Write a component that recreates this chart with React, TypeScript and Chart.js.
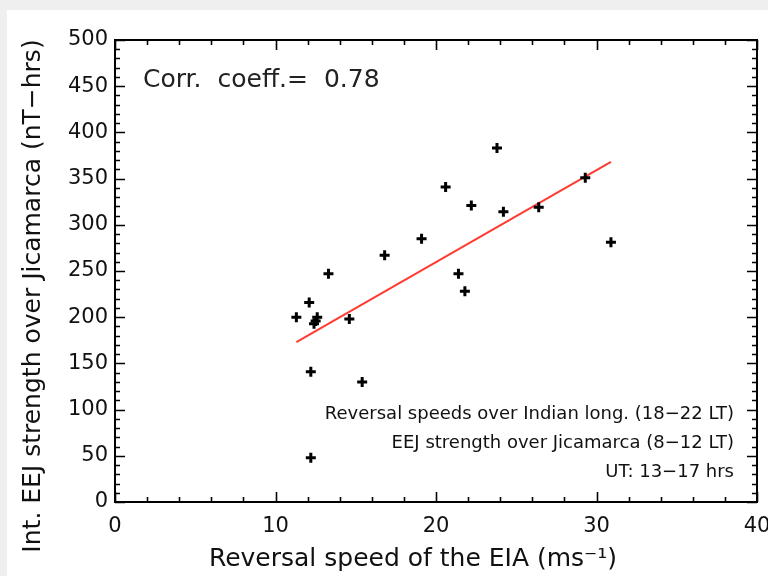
import React, { useEffect, useRef } from "react";
import { Chart, registerables } from "chart.js";

Chart.register(...registerables);

// ---- data ----
const speedX = [11.3, 12.1, 12.6, 12.5, 12.4, 14.6, 12.2, 15.4, 12.2, 21.8, 13.3, 16.8, 19.1, 20.6, 22.2, 21.4, 23.8, 24.2, 26.4, 29.3, 30.9];
const eejY = [200, 216, 200, 196, 193, 198, 141, 130, 48, 228, 247, 267, 285, 341, 321, 247, 383, 314, 319, 351, 281];
const fitX = [11.3, 30.9];
const fitY = [173, 368];

const xRange = [0, 40];
const xMajorStep = 10;
const xMinorStep = 2;
const yRange = [0, 500];
const yMajorStep = 50;
const yMinorStep = 10;

const corrLabel = "Corr. coeff.= 0.78";
const noteLines = [
  "Reversal speeds over Indian long. (18\u221222 LT)",
  "EEJ strength over Jicamarca (8\u221212 LT)",
  "UT: 13\u221217 hrs",
];
const xTitle = "Reversal speed of the EIA (ms\u207B\u00B9)";
const yTitle = "Int. EEJ strength over Jicamarca (nT\u2212hrs)";

const FONT = "'DejaVu Sans', sans-serif";

const framePlugin = {
  id: "idlFrame",
  beforeDraw(chart: any) {
    const { ctx, width, height } = chart;
    ctx.save();
    ctx.fillStyle = "#efefef";
    ctx.fillRect(0, 0, width, height);
    ctx.fillStyle = "#ffffff";
    ctx.fillRect(7, 10, width - 7, height - 10);
    ctx.restore();
  },
  afterDraw(chart: any) {
    const { ctx, chartArea } = chart;
    const { left, right, top, bottom } = chartArea;
    const xs = chart.scales.x;
    const ys = chart.scales.y;
    ctx.save();
    ctx.strokeStyle = "#000";
    ctx.lineWidth = 2;
    ctx.strokeRect(left, top, right - left, bottom - top);
    ctx.lineWidth = 1.6;
    ctx.beginPath();
    for (let v = xRange[0]; v <= xRange[1] + 1e-9; v += xMinorStep) {
      const px = Math.round(xs.getPixelForValue(v)) + 0.5;
      const major = Math.abs(v / xMajorStep - Math.round(v / xMajorStep)) < 1e-6;
      const len = major ? 10 : 5;
      ctx.moveTo(px, bottom);
      ctx.lineTo(px, bottom - len);
      ctx.moveTo(px, top);
      ctx.lineTo(px, top + len);
    }
    for (let v = yRange[0]; v <= yRange[1] + 1e-9; v += yMinorStep) {
      const py = Math.round(ys.getPixelForValue(v)) + 0.5;
      const major = Math.abs(v / yMajorStep - Math.round(v / yMajorStep)) < 1e-6;
      const len = major ? 10 : 5;
      ctx.moveTo(left, py);
      ctx.lineTo(left + len, py);
      ctx.moveTo(right, py);
      ctx.lineTo(right - len, py);
    }
    ctx.stroke();

    // annotations
    ctx.fillStyle = "#222";
    ctx.font = `25px ${FONT}`;
    ctx.textAlign = "left";
    ctx.textBaseline = "middle";
    try { (ctx as any).wordSpacing = "8px"; } catch (e) {}
    ctx.fillText(corrLabel, left + 28, top + 40);
    try { (ctx as any).wordSpacing = "0px"; } catch (e) {}

    ctx.fillStyle = "#111";
    ctx.font = `18px ${FONT}`;
    ctx.textAlign = "right";
    noteLines.forEach((t, i) => {
      ctx.fillText(t, right - 23, bottom - 88 + i * 29);
    });

    // axis titles
    ctx.font = `25px ${FONT}`;
    ctx.textAlign = "center";
    ctx.fillText(xTitle, 413, 559);
    ctx.save();
    ctx.translate(33, 296);
    ctx.rotate(-Math.PI / 2);
    ctx.fillText(yTitle, 0, 0);
    ctx.restore();
    ctx.restore();
  },
};

export default function App() {
  const ref = useRef<HTMLCanvasElement | null>(null);
  useEffect(() => {
    if (!ref.current) return;
    const chart = new Chart(ref.current, {
      type: "scatter",
      data: {
        datasets: [
          {
            label: "EEJ vs speed",
            data: speedX.map((x, i) => ({ x, y: eejY[i] })),
            pointStyle: "cross",
            pointRadius: 5,
            pointHoverRadius: 5,
            borderColor: "#000",
            backgroundColor: "#000",
            borderWidth: 3,
            showLine: false,
          },
          {
            label: "fit",
            type: "line",
            data: fitX.map((x, i) => ({ x, y: fitY[i] })),
            borderColor: "#ff3b30",
            borderWidth: 2,
            pointRadius: 0,
            showLine: true,
            fill: false,
          },
        ],
      } as any,
      options: {
        responsive: false,
        animation: false,
        layout: { padding: { left: 0, top: 40, right: 11, bottom: 0 } },
        plugins: { legend: { display: false }, tooltip: { enabled: false } },
        scales: {
          x: {
            type: "linear",
            min: xRange[0],
            max: xRange[1],
            grid: { display: false, drawTicks: false },
            border: { display: false },
            ticks: { stepSize: xMajorStep, color: "#111", font: { family: FONT, size: 21 }, padding: 12 },
            afterFit: (s: any) => { s.height = 74; s.paddingLeft = 0; s.paddingRight = 0; },
          },
          y: {
            type: "linear",
            min: yRange[0],
            max: yRange[1],
            grid: { display: false, drawTicks: false },
            border: { display: false },
            ticks: { stepSize: yMajorStep, color: "#111", font: { family: FONT, size: 21 }, padding: 7 },
            afterFit: (s: any) => { s.width = 115; s.paddingTop = 0; s.paddingBottom = 0; },
          },
        },
      },
      plugins: [framePlugin],
    });
    return () => chart.destroy();
  }, []);
  return (
    <div style={{ position: "absolute", left: 0, top: 0, width: 768, height: 576 }}>
      <canvas ref={ref} width={768} height={576} style={{ display: "block", width: 768, height: 576 }} />
    </div>
  );
}
